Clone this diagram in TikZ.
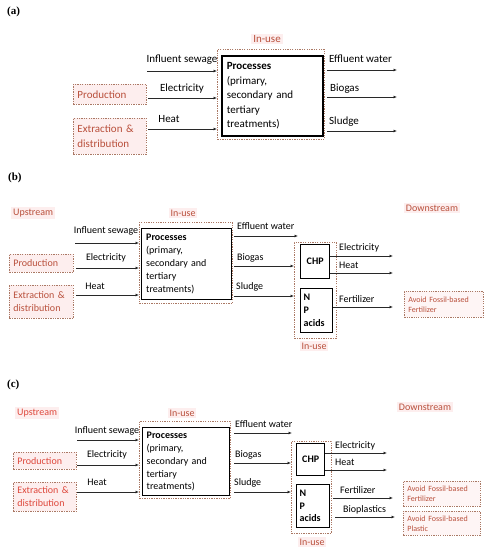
\documentclass[tikz,border=0pt]{standalone}
\usepackage{fontspec}
\setmainfont{Carlito}
\newfontfamily\panelfont{Liberation Serif}
\usetikzlibrary{arrows.meta}
\definecolor{redA}{RGB}{185,80,60}
\definecolor{redC}{RGB}{222,72,60}
\definecolor{pinkbg}{RGB}{253,238,238}
\definecolor{dotc}{RGB}{170,120,100}
\definecolor{linec}{RGB}{40,40,40}
\begin{document}
\begin{tikzpicture}[x=1pt,y=-1pt,
  fa/.style={font=\fontsize{11}{14.5}\selectfont},
  fb/.style={font=\fontsize{10}{13}\selectfont},
  tx/.style={inner sep=0pt, text=black},
  plabel/.style={inner sep=0pt, anchor=west, font={\panelfont\bfseries\fontsize{11}{13}\selectfont}},
  lbl/.style={inner xsep=2pt, inner ysep=1.5pt, fill=pinkbg},
  dbox/.style={draw=dotc, dash pattern=on 1.3pt off 1.1pt, line width=0.9pt, fill=pinkbg, anchor=north west, align=left, inner xsep=4pt, inner ysep=0pt},
  inbox/.style={draw=dotc, dash pattern=on 1.3pt off 1.1pt, line width=0.9pt, anchor=north west, inner sep=0pt},
  sbox/.style={draw=black, line width=1.6pt, anchor=north west, align=left, inner sep=0pt, fill=white},
  arr/.style={draw=linec, line width=0.8pt, -{Latex[length=3.5pt,width=3pt]}},
  avoid/.style={draw=dotc, dash pattern=on 1.2pt off 1.1pt, line width=0.8pt, fill=pinkbg!60, anchor=north west, align=left, inner xsep=4pt, inner ysep=0pt, font=\fontsize{8}{10}\selectfont},
]
\useasboundingbox (0,0) rectangle (489,550);

% ================= (a) =================
\node[plabel] (la) at (7,12) {(a)};
\node[fa, lbl, text=redA] (inuseA) at (267,39) {In-use};
\node[fa, dbox, text=redA, minimum width=73pt, minimum height=20pt, text width=65pt] (prodA) at (73,84) {Production};
\node[fa, dbox, text=redA, minimum width=73pt, minimum height=36pt, text width=65pt] (extrA) at (73,118) {Extraction \&\\distribution};
\node[inbox, minimum width=107pt, minimum height=90pt] (inA) at (217,49) {};
\node[sbox, fa, minimum width=101pt, minimum height=80pt, text width=91pt, inner xsep=5pt] (procA) at (221,55) {\textbf{Processes}\\(primary,\\secondary and\\tertiary\\treatments)};
\coordinate (iA1) at (147,71);
\coordinate (iA2) at (148,98);
\coordinate (iA3) at (148,129);
\draw[arr] (iA1) -- (iA1 -| inA.west);
\draw[arr] (iA2) -- (iA2 -| inA.west);
\draw[arr] (iA3) -- (iA3 -| inA.west);
\node[fa, tx] (tiA1) at (182,60) {Influent sewage};
\node[fa, tx] (tiA2) at (182,89) {Electricity};
\node[fa, tx] (tiA3) at (169,119) {Heat};
\coordinate (oA1s) at (327,70); \coordinate (oA1e) at (397,70);
\coordinate (oA2s) at (327,97); \coordinate (oA2e) at (397,97);
\coordinate (oA3s) at (327,131); \coordinate (oA3e) at (397,131);
\draw[arr] (oA1s) -- (oA1e);
\draw[arr] (oA2s) -- (oA2e);
\draw[arr] (oA3s) -- (oA3e);
\node[fa, tx, anchor=west] (toA1) at (329,59) {Effluent water};
\node[fa, tx, anchor=west] (toA2) at (330,89) {Biogas};
\node[fa, tx, anchor=west] (toA3) at (329,122) {Sludge};

% ================= (b) =================
\node[plabel] (lb) at (8,178) {(b)};
\node[fb, lbl, text=redA, anchor=west] (upB) at (11,213) {Upstream};
\node[fb, lbl, text=redA] (inuseB) at (183,213) {In-use};
\node[fb, lbl, text=redA] (downB) at (432,208) {Downstream};
\node[fb, dbox, text=redA, minimum width=64pt, minimum height=18pt, text width=56pt] (prodB) at (9,254) {Production};
\node[fb, dbox, text=redA, minimum width=64pt, minimum height=33pt, text width=56pt] (extrB) at (9,285) {Extraction \&\\distribution};
\node[inbox, minimum width=93pt, minimum height=81pt] (inB) at (139,222) {};
\node[sbox, fb, line width=1.4pt, minimum width=90pt, minimum height=71pt, text width=81pt, inner xsep=4.5pt] (procB) at (141,228) {\textbf{Processes}\\(primary,\\secondary and\\tertiary\\treatments)};
\coordinate (iB1) at (75,243);
\coordinate (iB2) at (76,268);
\coordinate (iB3) at (76,295);
\draw[arr] (iB1) -- (iB1 -| inB.west);
\draw[arr] (iB2) -- (iB2 -| inB.west);
\draw[arr] (iB3) -- (iB3 -| inB.west);
\node[fb, tx] (tiB1) at (106,231) {Influent sewage};
\node[fb, tx] (tiB2) at (106,258) {Electricity};
\node[fb, tx] (tiB3) at (95,286) {Heat};
\node[inbox, minimum width=42pt, minimum height=96pt] (in2B) at (294,242) {};
\node[sbox, fb, line width=1.4pt, minimum width=29pt, minimum height=34pt, align=center] (chpB) at (300,244) {\textbf{CHP}};
\node[sbox, fb, line width=1.4pt, minimum width=32pt, minimum height=44pt, text width=26pt, inner xsep=3pt] (npB) at (300,288) {\textbf{N}\\\textbf{P}\\\textbf{acids}};
\node[fb, lbl, text=redA] (inuse2B) at (314,346) {In-use};
\coordinate (oB1s) at (234,236); \coordinate (oB1e) at (298,236);
\coordinate (oB2s) at (234,266);
\coordinate (oB3s) at (234,296);
\draw[arr] (oB1s) -- (oB1e);
\draw[arr] (oB2s) -- (oB2s -| in2B.west);
\draw[arr] (oB3s) -- (oB3s -| in2B.west);
\node[fb, tx, anchor=west] (toB1) at (237,226) {Effluent water};
\node[fb, tx, anchor=west] (toB2) at (237,258) {Biogas};
\node[fb, tx, anchor=west] (toB3) at (236,287) {Sludge};
\coordinate (eB1) at (393,256);
\coordinate (eB2) at (393,273);
\coordinate (eB3) at (393,307);
\draw[arr] (eB1 -| chpB.east) -- (eB1);
\draw[arr] (eB2 -| chpB.east) -- (eB2);
\draw[arr] (eB3 -| npB.east) -- (eB3);
\node[fb, tx, anchor=west] (teB1) at (339,248) {Electricity};
\node[fb, tx, anchor=west] (teB2) at (339,265) {Heat};
\node[fb, tx, anchor=west] (teB3) at (339,299) {Fertilizer};
\node[avoid, text=redA, minimum width=79pt, minimum height=26pt, text width=71pt] (avB) at (404,291) {Avoid Fossil-based\\Fertilizer};

% ================= (c) =================
\node[plabel] (lc) at (7,385) {(c)};
\node[fb, lbl, text=redC, anchor=west] (upC) at (15,413) {Upstream};
\node[fb, lbl, text=redA] (inuseC) at (182,413) {In-use};
\node[fb, lbl, text=redA] (downC) at (425,407) {Downstream};
\node[fb, dbox, text=redC, minimum width=63pt, minimum height=17pt, text width=55pt] (prodC) at (13,452) {Production};
\node[fb, dbox, text=redC, minimum width=63pt, minimum height=29pt, text width=55pt] (extrC) at (13,482) {Extraction \&\\distribution};
\node[inbox, minimum width=91pt, minimum height=77pt] (inC) at (139,421) {};
\node[sbox, fb, line width=1.4pt, minimum width=87pt, minimum height=68pt, text width=79pt, inner xsep=4pt, font=\fontsize{10}{12.8}\selectfont] (procC) at (142,427) {\textbf{Processes}\\(primary,\\secondary and\\tertiary\\treatments)};
\coordinate (iC1) at (77,440);
\coordinate (iC2) at (77,465);
\coordinate (iC3) at (77,492);
\draw[arr] (iC1) -- (iC1 -| inC.west);
\draw[arr] (iC2) -- (iC2 -| inC.west);
\draw[arr] (iC3) -- (iC3 -| inC.west);
\node[fb, tx] (tiC1) at (107,431) {Influent sewage};
\node[fb, tx] (tiC2) at (107,455) {Electricity};
\node[fb, tx] (tiC3) at (97,482) {Heat};
\node[inbox, minimum width=40pt, minimum height=92pt] (in2C) at (291,441) {};
\node[sbox, fb, line width=1.4pt, minimum width=28pt, minimum height=32pt, align=center] (chpC) at (296,443) {\textbf{CHP}};
\node[sbox, fb, line width=1.4pt, minimum width=33pt, minimum height=43pt, text width=27pt, inner xsep=3pt, font=\fontsize{10}{12.5}\selectfont] (npC) at (296,484) {\textbf{N}\\\textbf{P}\\\textbf{acids}};
\node[fb, lbl, text=redA] (inuse2C) at (312,542) {In-use};
\coordinate (oC1s) at (234,433); \coordinate (oC1e) at (292,433);
\coordinate (oC2s) at (234,463);
\coordinate (oC3s) at (234,492);
\draw[arr] (oC1s) -- (oC1e);
\draw[arr] (oC2s) -- (oC2s -| in2C.west);
\draw[arr] (oC3s) -- (oC3s -| in2C.west);
\node[fb, tx, anchor=west] (toC1) at (235,424) {Effluent water};
\node[fb, tx, anchor=west] (toC2) at (235,455) {Biogas};
\node[fb, tx, anchor=west] (toC3) at (234,483) {Sludge};
\coordinate (eC1) at (387,453);
\coordinate (eC2) at (387,470);
\coordinate (eC3s) at (333,498); \coordinate (eC3) at (393,498);
\coordinate (eC4s) at (335,517); \coordinate (eC4) at (395,517);
\draw[arr] (eC1 -| chpC.east) -- (eC1);
\draw[arr] (eC2 -| chpC.east) -- (eC2);
\draw[arr] (eC3s) -- (eC3);
\draw[arr] (eC4s) -- (eC4);
\node[fb, tx, anchor=west] (teC1) at (335,446) {Electricity};
\node[fb, tx, anchor=west] (teC2) at (335,462) {Heat};
\node[fb, tx, anchor=west] (teC3) at (340,490) {Fertilizer};
\node[fb, tx, anchor=west] (teC4) at (343,510) {Bioplastics};
\node[avoid, text=redA, minimum width=77pt, minimum height=25pt, text width=69pt] (avC1) at (403,481) {Avoid Fossil-based\\Fertilizer};
\node[avoid, text=redA, minimum width=77pt, minimum height=24pt, text width=69pt] (avC2) at (403,511) {Avoid Fossil-based\\Plastic};
\end{tikzpicture}
\end{document}
